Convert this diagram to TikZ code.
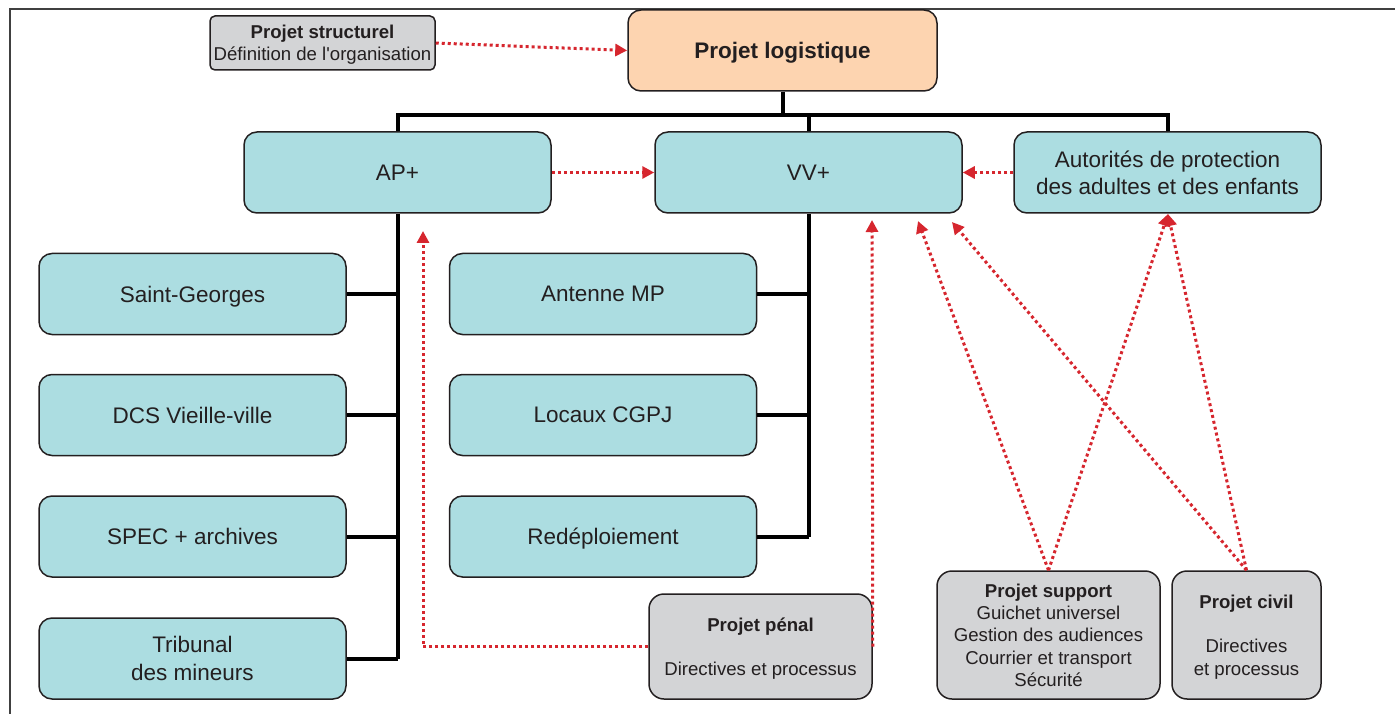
\documentclass[tikz,border=0pt]{standalone}
\definecolor{boxTeal}{RGB}{172,221,225}
\definecolor{boxGrey}{RGB}{211,212,214}
\definecolor{boxPeach}{RGB}{253,212,176}
\definecolor{linkRed}{RGB}{214,38,46}
\definecolor{inkDark}{RGB}{35,31,32}
\usepackage{fontspec}
\setmainfont{Liberation Sans}[Ligatures=TeXOff]
\usepackage{tikz}
\usetikzlibrary{arrows.meta,positioning}

\begin{document}
\begin{tikzpicture}[x=1pt,y=-1pt,
  unitbox/.style={draw=inkDark, line width=1.5pt, rounded corners=13pt, fill=boxTeal,
    minimum width=307pt, minimum height=81pt, inner sep=0pt, text depth=0pt, align=center,
    text=inkDark, font=\fontsize{22.5}{27.5}\selectfont},
  projbox/.style={draw=inkDark, line width=1.5pt, rounded corners=15pt, fill=boxGrey,
    inner sep=0pt, text depth=0pt, align=center, text=inkDark,
    font=\fontsize{18.6}{22.3}\selectfont},
  treeline/.style={line width=4pt, line join=miter},
  redlink/.style={draw=linkRed, line width=3pt, dash pattern=on 3pt off 3pt,
    -{Triangle[length=12pt,width=12pt]}}]
  \useasboundingbox (0,0) rectangle (1395,714);
  \draw[black!75, line width=1.5pt] (1395,9) -- (10,9) -- (10,714);

  % top level
  \node[projbox, rounded corners=5pt, minimum width=225pt, minimum height=54pt] (structurel) at (322.5,43)
    {\textbf{Projet structurel}\\Définition de l'organisation};
  \node[unitbox, fill=boxPeach, minimum width=309pt, font=\fontsize{22.5}{27.5}\selectfont\bfseries] (logistique) at (782.5,50.5)
    {Projet logistique};

  % second level
  \node[unitbox] (ap) at (397.5,172.5) {AP+};
  \node[unitbox] (vv) at (808.5,172.5) {VV+};
  \node[unitbox] (aut) at (1167.5,172.5) {Autorités de protection\\des adultes et des enfants};

  % AP+ units
  \node[unitbox] (sg) at (192.5,294) {Saint-Georges};
  \node[unitbox] (dcs) at (192.5,415) {DCS Vieille-ville};
  \node[unitbox] (spec) at (192.5,536.5) {SPEC + archives};
  \node[unitbox] (trib) at (192.5,658.5) {Tribunal\\des mineurs};

  % VV+ units
  \node[unitbox] (antenne) at (603,294) {Antenne MP};
  \node[unitbox] (locaux) at (603,415) {Locaux CGPJ};
  \node[unitbox] (redep) at (603,536.5) {Redéploiement};

  % side projects
  \node[projbox, minimum width=223pt, minimum height=105pt] (penal) at (760.5,646.5)
    {\textbf{Projet pénal}\\[22.3pt]Directives et processus};
  \node[projbox, minimum width=223pt, minimum height=128pt] (support) at (1048.5,635)
    {\textbf{Projet support}\\Guichet universel\\Gestion des audiences\\Courrier et transport\\Sécurité};
  \node[projbox, minimum width=149pt, minimum height=128pt] (civil) at (1246.5,635)
    {\textbf{Projet civil}\\[22.3pt]Directives\\et processus};

  % hierarchy
  \coordinate (bus) at (782.5,115);
  \draw[treeline] (logistique.south) -- (bus);
  \draw[treeline] (ap.north) -- (ap.north |- bus) -- (aut.north |- bus) -- (aut.north);
  \draw[treeline] (vv.north) -- (vv.north |- bus);
  \draw[treeline] (ap.south) -- (ap.south |- trib.east);
  \foreach \kid in {sg,dcs,spec,trib}
    \draw[treeline] (\kid.east) -- (\kid.east -| ap.south);
  \draw[treeline] (vv.south) -- (vv.south |- redep.east);
  \foreach \kid in {antenne,locaux,redep}
    \draw[treeline] (\kid.east) -- (\kid.east -| vv.south);

  % project links
  \coordinate (apIn) at (423,231);
  \coordinate (vvInA) at (872,220);
  \coordinate (vvInB) at (918,221);
  \coordinate (vvInC) at (952,222);
  \coordinate (autIn) at (1168,214);
  \draw[redlink] (structurel.east) -- (logistique.west);
  \draw[redlink] (ap.east) -- (vv.west);
  \draw[redlink] (aut.west) -- (vv.east);
  \draw[redlink] (penal.west) -| (apIn);
  \draw[redlink] (penal.east) -- (vvInA);
  \draw[redlink] (support.north) -- (vvInB);
  \draw[redlink] (support.north) -- (autIn);
  \draw[redlink] (civil.north) -- (vvInC);
  \draw[redlink] (civil.north) -- (autIn);
\end{tikzpicture}
\end{document}
